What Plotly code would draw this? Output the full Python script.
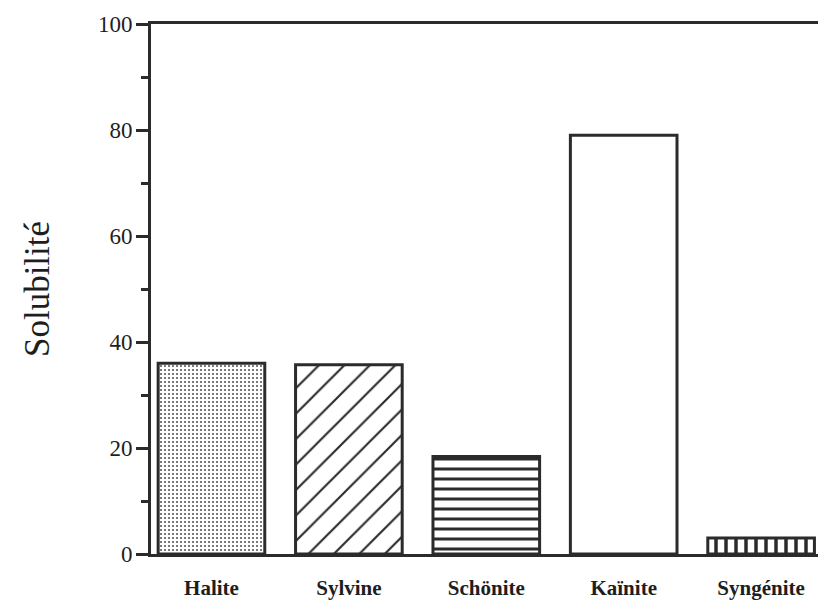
import plotly.graph_objects as go

# Solubility of evaporite salts
minerals = ["Halite", "Sylvine", "Schönite", "Kaïnite", "Syngénite"]
solubility = [36, 35.7, 18.4, 79, 3]

# fill style for each bar
pattern_shapes = [".", "/", "-", "", "|"]
pattern_sizes = [4, 18, 10, 10, 10]
pattern_solidity = [0.22, 0.12, 0.3, 0.2, 0.35]
pattern_colors = ["#5a5a5a", "#2b2b2b", "#2b2b2b", "#2b2b2b", "#2b2b2b"]

ink = "#2b2b2b"
serif = "Liberation Serif, Times New Roman, serif"

fig = go.Figure(
    go.Bar(
        x=minerals,
        y=solubility,
        width=0.776,
        marker=dict(
            color="white",
            line=dict(color=ink, width=3),
            pattern=dict(
                shape=pattern_shapes,
                size=pattern_sizes,
                solidity=pattern_solidity,
                fgcolor=pattern_colors,
                bgcolor="white",
                fillmode="replace",
            ),
        ),
        hoverinfo="x+y",
    )
)

fig.update_layout(
    width=818,
    height=611,
    margin=dict(l=151, r=0, t=24, b=57),
    paper_bgcolor="white",
    plot_bgcolor="white",
    showlegend=False,
    bargap=0.224,
)

fig.update_xaxes(
    type="category",
    range=[-0.44, 4.414],
    showline=True,
    mirror=True,
    linecolor=ink,
    linewidth=3,
    ticks="",
    showgrid=False,
    zeroline=False,
    tickfont=dict(family=serif, size=21, color="#1e1e1e", weight="bold"),
    ticklabelstandoff=13,
)

fig.update_yaxes(
    range=[0, 100],
    tickvals=[0, 20, 40, 60, 80, 100],
    showline=True,
    linecolor=ink,
    linewidth=3,
    ticks="outside",
    ticklen=12,
    tickwidth=3,
    tickcolor=ink,
    minor=dict(dtick=10, ticks="outside", ticklen=7, tickwidth=3, tickcolor=ink),
    showgrid=False,
    zeroline=False,
    tickfont=dict(family=serif, size=23, color="#1e1e1e"),
    ticklabelstandoff=-1,
    title=dict(
        text="Solubilité",
        font=dict(family=serif, size=35, color="#1e1e1e"),
        standoff=38,
    ),
)

fig.write_html("out.html")
